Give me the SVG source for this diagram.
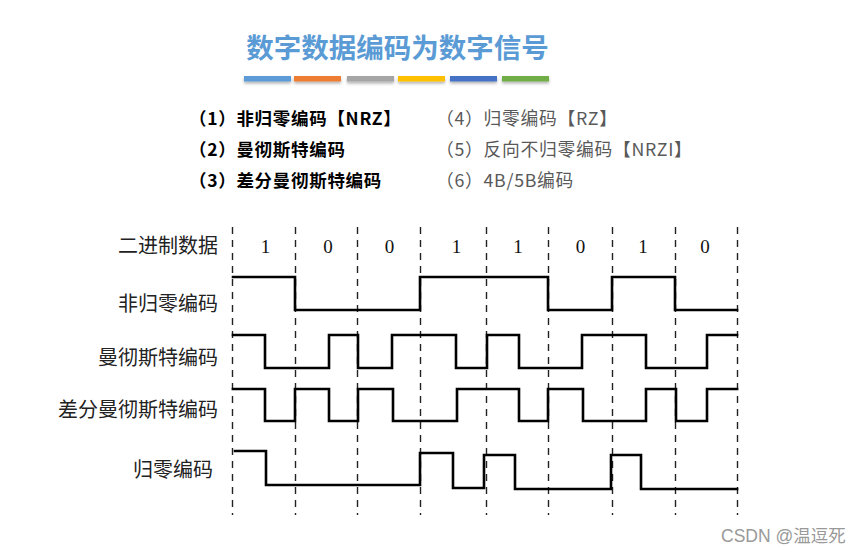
<svg xmlns="http://www.w3.org/2000/svg" width="866" height="556" viewBox="0 0 866 556">
<style>
.title{font-family:"Noto Sans CJK SC","Noto Sans",sans-serif;font-weight:bold;font-size:27.5px;fill:#5b9bd5}
.li{font-family:"Noto Sans CJK SC","Noto Sans",sans-serif;font-size:17.5px;font-weight:bold;fill:#000;letter-spacing:0.7px}
.ri{font-family:"Noto Sans CJK SC","Noto Sans",sans-serif;font-size:17.8px;fill:#595959;letter-spacing:0.7px}
.lab{font-family:"Noto Sans CJK SC",sans-serif;font-size:20px;fill:#222;text-anchor:end}
.dig{font-family:"Liberation Serif",serif;font-size:19px;fill:#111;text-anchor:middle}
.dash{stroke:#222;stroke-width:1.4;stroke-dasharray:7 6;fill:none}
.wave{stroke:#000;stroke-width:2.6;fill:none;stroke-linejoin:miter;stroke-linecap:square}
.wm{font-family:"Liberation Sans",Arial,"Noto Sans CJK SC",sans-serif;font-size:17.5px;fill:#999}
</style>
<defs>
<filter id="sh" x="-10%" y="-50%" width="120%" height="250%">
<feDropShadow dx="0" dy="2" stdDeviation="1.5" flood-color="#000" flood-opacity="0.3"/>
</filter>
</defs>
<rect width="866" height="556" fill="#fff"/>
<g id="title">
<text class="title" x="397.5" y="58" text-anchor="middle">数字数据编码为数字信号</text>
<g filter="url(#sh)">
<rect x="244" y="76" width="47" height="5.5" fill="#5b9bd5"/>
<rect x="294" y="76" width="47" height="5.5" fill="#ed7d31"/>
<rect x="347" y="76" width="47" height="5.5" fill="#a5a5a5"/>
<rect x="398" y="76" width="47" height="5.5" fill="#ffc000"/>
<rect x="450" y="76" width="47" height="5.5" fill="#4472c4"/>
<rect x="502" y="76" width="47" height="5.5" fill="#70ad47"/>
</g>
</g>
<g id="list">
<text class="li" x="189" y="124.5">（1）非归零编码【NRZ】</text>
<text class="li" x="189" y="155.5">（2）曼彻斯特编码</text>
<text class="li" x="189" y="187">（3）差分曼彻斯特编码</text>
<text class="ri" x="436" y="124.5">（4）归零编码【RZ】</text>
<text class="ri" x="436" y="155.5">（5）反向不归零编码【NRZI】</text>
<text class="ri" x="436" y="187">（6）4B/5B编码</text>
</g>
<g id="grid">
<line class="dash" x1="232.5" y1="227" x2="232.5" y2="515"/>
<line class="dash" x1="295.5" y1="227" x2="295.5" y2="515"/>
<line class="dash" x1="357.5" y1="227" x2="357.5" y2="515"/>
<line class="dash" x1="420.5" y1="227" x2="420.5" y2="515"/>
<line class="dash" x1="486.5" y1="227" x2="486.5" y2="515"/>
<line class="dash" x1="548.5" y1="227" x2="548.5" y2="515"/>
<line class="dash" x1="612.5" y1="227" x2="612.5" y2="515"/>
<line class="dash" x1="675.5" y1="227" x2="675.5" y2="515"/>
<line class="dash" x1="737.5" y1="227" x2="737.5" y2="515"/>
</g>
<g id="labels">
<text class="lab" x="218" y="253">二进制数据</text>
<text class="lab" x="218" y="311">非归零编码</text>
<text class="lab" x="218" y="365">曼彻斯特编码</text>
<text class="lab" x="218" y="417">差分曼彻斯特编码</text>
<text class="lab" x="213" y="477">归零编码</text>
</g>
<g id="bits">
<text class="dig" x="265.5" y="253">1</text>
<text class="dig" x="328" y="253">0</text>
<text class="dig" x="389.5" y="253">0</text>
<text class="dig" x="456.5" y="253">1</text>
<text class="dig" x="518" y="253">1</text>
<text class="dig" x="580.5" y="253">0</text>
<text class="dig" x="643" y="253">1</text>
<text class="dig" x="705" y="253">0</text>
</g>
<g id="connectors">
<polyline id="nrz" class="wave" points="233,277 295,277 295,310 420,310 420,277 548,277 548,310 612,310 612,277 675,277 675,310 737,310"/>
<polyline id="manchester" class="wave" points="233,335 265,335 265,368 329,368 329,335 358,335 358,368 392,368 392,335 456,335 456,368 487,368 487,335 519,335 519,368 582,368 582,335 646,335 646,368 707,368 707,335 737,335"/>
<polyline id="diffmanchester" class="wave" points="233,389 265,389 265,421 295,421 295,389 329,389 329,421 358,421 358,389 393,389 393,421 457,421 457,389 519,389 519,421 548,421 548,389 583,389 583,421 646,421 646,389 676,389 676,421 707,421 707,389 737,389"/>
<polyline id="rz" class="wave" points="235,451 266,451 266,485 420,485 420,453 453,453 453,488 484,488 484,455 515,455 515,489 611,489 611,455 641,455 641,489 737,489"/>
</g>
<text class="wm" x="721" y="542">CSDN @温逗死</text>
</svg>
